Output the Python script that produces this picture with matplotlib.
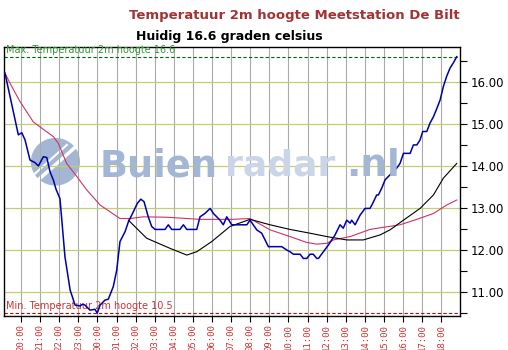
import matplotlib.pyplot as plt
from matplotlib.patches import Ellipse

# hours counted from midnight of the first day (24+ = next day)
blue_hours = [19.16, 19.86, 20.04, 20.21, 20.47, 20.73, 20.91, 21.17, 21.35, 21.52,
              21.69, 21.83, 22.04, 22.30, 22.57, 22.83, 23.09, 23.23, 23.35, 23.61,
              23.87, 23.99, 24.14, 24.40, 24.57, 24.83, 25.01, 25.18, 25.45, 25.62,
              25.88, 26.09, 26.27, 26.44, 26.66, 26.84, 27.02, 27.54, 27.71, 27.89,
              28.32, 28.50, 28.68, 29.20, 29.37, 29.63, 29.90, 30.07, 30.42, 30.59,
              30.77, 31.03, 31.82, 31.99, 32.34, 32.60, 32.95, 33.65, 33.91, 34.08,
              34.26, 34.61, 34.78, 34.96, 35.13, 35.30, 35.48, 35.57, 35.83, 36.09,
              36.44, 36.70, 36.87, 37.05, 37.23, 37.31, 37.49, 37.75, 38.01, 38.27,
              38.41, 38.62, 38.71, 38.88, 39.06, 39.32, 39.67, 39.84, 40.02, 40.37,
              40.54, 40.72, 40.89, 41.03, 41.24, 41.41, 41.59, 41.77, 41.94, 42.11,
              42.28, 42.46, 42.63, 42.81]
blue_temp = [16.21, 14.74, 14.79, 14.62, 14.14, 14.08, 14.00, 14.22, 14.20, 13.86,
             13.67, 13.45, 13.22, 11.84, 11.05, 10.69, 10.67, 10.71, 10.69, 10.57,
             10.59, 10.50, 10.69, 10.81, 10.83, 11.13, 11.52, 12.20, 12.44, 12.67,
             12.91, 13.11, 13.21, 13.15, 12.79, 12.56, 12.49, 12.49, 12.60, 12.49,
             12.49, 12.60, 12.49, 12.49, 12.79, 12.87, 12.99, 12.87, 12.71, 12.60,
             12.79, 12.60, 12.60, 12.71, 12.48, 12.40, 12.08, 12.08, 12.00, 11.96,
             11.90, 11.90, 11.80, 11.80, 11.90, 11.90, 11.80, 11.80, 11.96, 12.12,
             12.36, 12.60, 12.52, 12.71, 12.64, 12.71, 12.60, 12.83, 12.99, 12.99,
             13.11, 13.31, 13.31, 13.47, 13.67, 13.79, 13.95, 14.06, 14.30, 14.30,
             14.50, 14.50, 14.62, 14.82, 14.82, 15.02, 15.17, 15.37, 15.57, 15.89,
             16.13, 16.33, 16.45, 16.60]

black_hours = [25.62, 26.58, 27.80, 28.68, 29.20, 29.98, 30.94, 31.99, 33.04, 34.08,
               35.13, 36.01, 37.05, 37.92, 38.80, 39.32, 40.02, 40.89, 41.59, 42.11,
               42.81]
black_temp = [12.71, 12.28, 12.04, 11.88, 11.96, 12.20, 12.56, 12.73, 12.60, 12.49,
              12.40, 12.32, 12.24, 12.24, 12.36, 12.48, 12.71, 12.99, 13.31, 13.71,
              14.06]

pink_hours = [19.16, 19.42, 19.95, 20.64, 21.17, 21.69, 21.95, 22.39, 22.92, 23.44,
              23.87, 24.14, 24.66, 25.18, 25.71, 26.40, 27.63, 29.37, 31.10, 31.99,
              33.04, 34.08, 34.96, 35.48, 36.01, 36.35, 37.23, 38.27, 38.97, 39.84,
              40.72, 41.59, 42.28, 42.81]
pink_temp = [16.21, 15.97, 15.53, 15.05, 14.87, 14.70, 14.54, 14.06, 13.75, 13.43,
             13.21, 13.07, 12.91, 12.75, 12.75, 12.79, 12.78, 12.73, 12.73, 12.75,
             12.48, 12.32, 12.18, 12.14, 12.16, 12.24, 12.32, 12.49, 12.54, 12.60,
             12.73, 12.87, 13.07, 13.19]

tick_hours = list(range(20, 43))
tick_labels = [f"{h % 24:02d}:00" for h in tick_hours]
y_ticks = [11, 12, 13, 14, 15, 16]
max_temp = 16.6
min_temp = 10.5

fig = plt.figure(figsize=(5.08, 3.5), dpi=100)
ax = fig.add_axes([0.0079, 0.0971, 0.8976, 0.7686])

# watermark
fig.text(0.197, 0.527, "Buien", fontsize=26.5, fontweight="bold", color="#a3b7d5",
         va="center", ha="left", zorder=0)
fig.text(0.443, 0.527, "radar", fontsize=26, fontweight="bold", color="#cad6e8",
         va="center", ha="left", zorder=0)
fig.text(0.682, 0.527, ".nl", fontsize=27, fontweight="bold", color="#a3b7d5",
         va="center", ha="left", zorder=0)
ax.add_patch(Ellipse((21.8, 14.1), 2.5, 1.1, color="#a3b7d5", zorder=0.5))
ax.plot([20.6, 23.6], [13.55, 14.75], color="white", lw=2.5, zorder=0.6)
ax.plot([20.2, 22.4], [13.6, 14.5], color="white", lw=1.5, zorder=0.6)

ax.set_xlim(19.11, 42.98)
ax.set_ylim(10.43, 16.83)

for h in tick_hours:
    ax.axvline(h, color="#aaaaaa", lw=0.8, zorder=1)
for t in y_ticks:
    ax.axhline(t, color="#c0d070", lw=0.9, zorder=1)

ax.axhline(max_temp, color="#006600", lw=0.8, ls=(0, (3, 2)), zorder=2)
ax.axhline(min_temp, color="#cc0000", lw=0.8, ls=(0, (3, 2)), zorder=2)
ax.text(19.2, max_temp + 0.03, f"Max. Temperatuur 2m hoogte {max_temp}",
        color="#339933", fontsize=7.0, va="bottom", ha="left", zorder=3)
ax.text(19.2, min_temp + 0.05, f"Min. Temperatuur 2m hoogte {min_temp}",
        color="#cc3333", fontsize=7.0, va="bottom", ha="left", zorder=3)

ax.plot(pink_hours, pink_temp, color="#cc3366", lw=0.8, zorder=4)
ax.plot(black_hours, black_temp, color="black", lw=0.8, zorder=4)
ax.plot(blue_hours, blue_temp, color="#0000aa", lw=1.1, zorder=5)

ax.set_xticks(tick_hours)
ax.set_xticklabels(tick_labels, rotation=90, color="#cc3333", fontsize=6.5,
                   family="DejaVu Sans Mono")
ax.tick_params(axis="x", length=4, width=0.8, color="black", pad=2)

ax.yaxis.tick_right()
ax.set_yticks(y_ticks)
ax.set_yticklabels([f"{t:.2f}" for t in y_ticks], fontsize=8.5)
ax.set_yticks([t + 0.5 for t in [10] + y_ticks], minor=True)
ax.tick_params(axis="y", which="major", length=5, width=0.8, pad=3)
ax.tick_params(axis="y", which="minor", length=5, width=0.8)

for s in ax.spines.values():
    s.set_color("black")
    s.set_linewidth(1.0)

fig.text(0.579, 0.955, "Temperatuur 2m hoogte Meetstation De Bilt", color="#a33333",
         fontsize=9.5, fontweight="bold", ha="center", va="center")
fig.text(0.451, 0.897, "Huidig 16.6 graden celsius", color="black",
         fontsize=9, fontweight="bold", ha="center", va="center")

fig.savefig("out.png", dpi=100)
